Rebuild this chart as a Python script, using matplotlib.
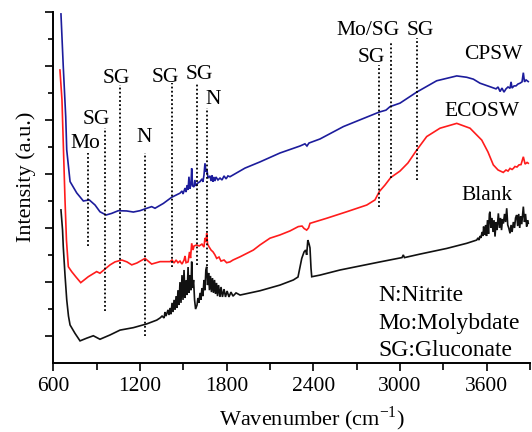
import matplotlib
matplotlib.use("Agg")
import matplotlib.pyplot as plt
from matplotlib.ticker import FixedLocator, NullFormatter

plt.rcParams['font.family'] = ['Liberation Serif', 'DejaVu Serif']
plt.rcParams['mathtext.fontset'] = 'custom'
plt.rcParams['mathtext.rm'] = 'Liberation Serif'

# ---------------- data (wavenumber in cm-1, intensity in a.u.) ----------------
cpsw_wn = [653, 669, 686, 693, 716, 762, 808, 849, 889, 923, 965, 1004, 1050, 1108, 1154,
           1200, 1247, 1281, 1304, 1362, 1420,
           1477, 1491, 1498, 1512, 1519, 1526, 1533, 1539, 1546, 1553, 1558, 1564, 1574, 1580,
           1587, 1601, 1616, 1629, 1636, 1643, 1650, 1657, 1664, 1671, 1685, 1692, 1699, 1705,
           1712, 1719, 1726, 1740, 1754, 1768, 1782, 1796, 1809, 1823,
           1927, 2031, 2169, 2308, 2342, 2356, 2370, 2446, 2608, 2723, 2857, 2903, 2931, 3000,
           3116, 3254, 3393, 3462, 3508, 3554, 3623,
           3665, 3679, 3693, 3706, 3720, 3734, 3748, 3762, 3769, 3776, 3790, 3803, 3817, 3831,
           3845, 3854, 3862, 3873, 3888]
cpsw_int = [12.94, 10.98, 9.12, 7.89, 6.72, 6.30, 6.00, 6.04, 5.85, 5.60, 5.48, 5.54, 5.64, 5.63, 5.59,
            5.64, 5.73, 5.79, 5.73, 5.91, 6.14,
            6.29, 6.37, 6.26, 6.48, 6.33, 6.59, 6.41, 6.90, 6.45, 6.63, 7.21, 6.56, 6.52, 6.78,
            6.56, 6.67, 6.72, 6.82, 6.71, 6.96, 7.40, 7.08, 7.15, 6.85, 6.93, 6.74, 6.96, 6.71,
            6.89, 6.74, 6.89, 6.78, 6.85, 6.78, 6.93, 6.82, 6.93, 6.90,
            7.22, 7.45, 7.78, 8.04, 8.12, 8.04, 8.15, 8.30, 8.76, 9.01, 9.30, 9.37, 9.50, 9.63,
            10.04, 10.46, 10.64, 10.59, 10.52, 10.37, 10.24,
            10.16, 10.23, 10.06, 10.19, 10.04, 10.16, 10.23, 10.18, 10.42, 10.19, 10.27, 10.27, 10.34, 10.37,
            10.42, 10.76, 10.42, 10.49, 10.43]

ecosw_wn = [646, 660, 669, 681, 691, 704, 727, 757, 790, 842, 900, 923, 993, 1027, 1074, 1110,
            1143, 1179, 1235, 1281, 1339, 1408,
            1422, 1436, 1450, 1463, 1477, 1491, 1505, 1512, 1519, 1533, 1543, 1550, 1558, 1567,
            1574, 1593, 1609, 1629, 1643, 1650, 1657, 1662, 1668, 1678, 1692, 1706, 1719, 1731,
            1747, 1761, 1782, 1800, 1823, 1844,
            1893, 1985, 2031, 2100, 2169, 2239, 2296, 2322, 2336, 2354, 2367, 2377, 2493, 2631,
            2770, 2827, 2857, 2896, 2936, 3000, 3055, 3116, 3185, 3277, 3393, 3485, 3566, 3609,
            3646, 3679, 3715,
            3734, 3748, 3762, 3776, 3785, 3796, 3810, 3824, 3838, 3854, 3866, 3880, 3888]
ecosw_int = [10.86, 9.75, 8.15, 6.04, 4.55, 3.56, 3.38, 3.18, 2.97, 3.19, 3.38, 3.32, 3.63, 3.74, 3.81, 3.74,
             3.63, 3.70, 3.87, 3.66, 3.75, 3.75,
             3.81, 3.70, 3.81, 3.71, 3.77, 3.66, 3.81, 3.96, 3.71, 3.74, 4.11, 3.88, 4.43, 4.18,
             4.33, 4.37, 4.33, 4.40, 4.29, 4.63, 4.48, 4.80, 4.40, 4.30, 4.18, 4.11, 4.00, 3.87,
             3.92, 3.77, 3.81, 3.71, 3.74, 3.81,
             3.93, 4.18, 4.37, 4.62, 4.74, 4.89, 5.05, 5.07, 4.98, 4.92, 5.00, 5.17, 5.36, 5.60,
             5.85, 6.04, 6.35, 6.59, 6.87, 7.11, 7.41, 7.89, 8.39, 8.70, 8.88, 8.70, 8.26, 7.82,
             7.34, 7.15, 7.06,
             7.15, 7.11, 7.21, 7.17, 7.21, 7.28, 7.26, 7.34, 7.35, 7.64, 7.37, 7.43, 7.40]

blank_wn = [653, 664, 669, 681, 693, 705, 716, 750, 785, 831, 877, 923, 993, 1062, 1154, 1247, 1316,
            1339, 1353, 1367, 1373, 1380, 1394, 1401, 1408, 1415, 1422, 1429, 1436, 1443, 1450,
            1457, 1463, 1470, 1477, 1484, 1491, 1498, 1505, 1512, 1519, 1526, 1533, 1539, 1546,
            1553, 1558, 1564, 1571, 1578, 1585, 1595, 1601, 1608, 1616, 1622, 1629, 1636, 1643,
            1650, 1656, 1662, 1668, 1675, 1681, 1688, 1695, 1702, 1709, 1716, 1723, 1730, 1737,
            1744, 1754, 1761, 1771, 1782, 1792, 1803, 1816, 1830, 1844, 1865,
            1893, 2031, 2169, 2262, 2294, 2320, 2336, 2347, 2354, 2362, 2371, 2377, 2384, 2389,
            2446, 2585, 2723, 2862, 3014, 3023, 3031, 3139, 3324, 3462, 3531,
            3540, 3547, 3554, 3561, 3568, 3575, 3579, 3586, 3593, 3599, 3606, 3613, 3619, 3623,
            3630, 3637, 3644, 3651, 3658, 3665, 3672, 3681, 3689, 3696, 3703, 3710, 3716, 3724,
            3731, 3739, 3746, 3753, 3762, 3769, 3776, 3785, 3793, 3800, 3808, 3815, 3822, 3829,
            3836, 3843, 3854, 3862, 3869, 3877, 3883, 3888]
blank_int = [5.67, 4.92, 4.30, 3.25, 2.33, 1.73, 1.40, 1.09, 0.81, 0.91, 1.00, 0.87, 1.03, 1.21, 1.30, 1.44, 1.58,
             1.66, 1.73, 1.66, 1.88, 1.73, 1.96, 1.77, 2.03, 1.80, 2.22, 1.88, 2.33, 1.96, 2.47,
             2.03, 2.69, 2.14, 2.99, 2.22, 3.25, 2.33, 3.44, 2.40, 3.06, 2.51, 3.55, 2.59, 3.25,
             2.69, 3.75, 2.77, 3.07, 2.33, 1.99, 2.14, 2.40, 2.22, 2.59, 2.33, 2.77, 2.47, 3.07,
             2.69, 3.44, 3.56, 2.88, 3.33, 2.69, 3.22, 2.62, 3.14, 2.59, 3.07, 2.55, 2.96, 2.47,
             2.88, 2.44, 2.81, 2.44, 2.73, 2.44, 2.66, 2.44, 2.62, 2.47, 2.59,
             2.51, 2.67, 2.88, 3.07, 3.18, 3.87, 4.11, 4.18, 4.00, 4.55, 4.40, 4.26, 3.51, 3.19,
             3.25, 3.44, 3.59, 3.74, 3.90, 4.00, 3.90, 4.03, 4.24, 4.43, 4.55,
             4.63, 4.55, 4.70, 4.63, 4.85, 4.70, 5.05, 4.74, 5.11, 4.70, 5.29, 4.78, 5.52, 5.60,
             5.00, 5.37, 4.85, 5.29, 4.68, 5.22, 4.92, 5.54, 5.00, 5.37, 4.92, 5.33, 5.17, 5.52,
             5.22, 5.73, 5.11, 5.00, 4.80, 5.11, 4.85, 5.22, 5.00, 5.37, 5.48, 5.07, 5.52, 5.00,
             5.44, 5.14, 5.79, 5.22, 5.52, 5.05, 5.29, 5.17]

# assignment markers: position, label, line top, line bottom, label position
mark_wn = [842, 958, 1062, 1235, 1420, 1593, 1666, 2857, 2936, 3116]
mark_top = [7.78, 8.71, 10.30, 7.78, 10.38, 10.38, 9.45, 11.05, 11.91, 12.05]
mark_bottom = [4.33, 1.93, 3.51, 0.99, 3.56, 3.63, 3.59, 5.78, 6.85, 6.78]
mark_labels = ["Mo", "SG", "SG", "N", "SG", "SG", "N", "SG", "Mo/SG", "SG"]
mark_label_wn = [819, 900, 1039, 1228, 1378, 1609, 1708, 2799, 2779, 3143]
mark_label_y = [8.15, 9.01, 10.53, 8.37, 10.60, 10.71, 9.75, 11.34, 12.31, 12.31]

series_names = ["CPSW", "ECOSW", "Blank"]
series_colors = ["#1c1c9c", "#ff1c1c", "#111111"]
name_wn = [3644, 3566, 3600]
name_y = [11.42, 9.31, 6.22]

key_lines = ["N:Nitrite", "Mo:Molybdate", "SG:Gluconate"]
key_wn = 2850
key_y = [2.51, 1.47, 0.47]

x_major = [600, 1200, 1800, 2400, 3000, 3600]

# ---------------- figure ----------------
fig = plt.figure(figsize=(5.32, 4.32), dpi=100)
ax = fig.add_axes([0.1002, 0.1604, 0.896, 0.8111])
FS = 15.5

for wn, inten, c in zip([cpsw_wn, ecosw_wn, blank_wn], [cpsw_int, ecosw_int, blank_int], series_colors):
    ax.plot(wn, inten, color=c, lw=1.2, solid_joinstyle='miter')

for x, t, b in zip(mark_wn, mark_top, mark_bottom):
    ax.plot([x, x], [b, t], color='black', lw=1.3, linestyle=(0, (1, 1.3)))

for lab, x, y in zip(mark_labels, mark_label_wn, mark_label_y):
    ax.text(x, y, lab, fontsize=FS, ha='center', va='center')

for n, x, y in zip(series_names, name_wn, name_y):
    ax.text(x, y, n, fontsize=FS, ha='center', va='center')

for t, y in zip(key_lines, key_y):
    ax.text(key_wn, y, t, fontsize=17, ha='left', va='center')

ax.set_xlim(600, 3900)
ax.set_ylim(0, 13)
ax.spines['top'].set_visible(False)
ax.spines['right'].set_visible(False)
ax.spines['left'].set_linewidth(1.4)
ax.spines['bottom'].set_linewidth(1.4)

ax.xaxis.set_major_locator(FixedLocator(x_major))
ax.xaxis.set_minor_locator(FixedLocator([x + 300 for x in x_major]))
ax.yaxis.set_major_locator(FixedLocator([1, 3, 5, 7, 9, 11, 13]))
ax.yaxis.set_minor_locator(FixedLocator([2, 4, 6, 8, 10, 12]))
ax.yaxis.set_major_formatter(NullFormatter())
ax.tick_params(axis='both', which='major', direction='out', length=6, width=1.2, labelsize=FS, pad=4)
ax.tick_params(axis='both', which='minor', direction='out', length=3.5, width=1.2)
ax.tick_params(axis='x', which='minor', length=5)

ax.set_xlabel(r"Wavenumber (cm$^{\mathregular{-1}}$)", fontsize=16)
ax.xaxis.set_label_coords(0.542, -0.118)
ax.set_ylabel("Intensity (a.u.)", fontsize=16)
ax.yaxis.set_label_coords(-0.036, 0.53)

fig.savefig("out.png", dpi=100)
